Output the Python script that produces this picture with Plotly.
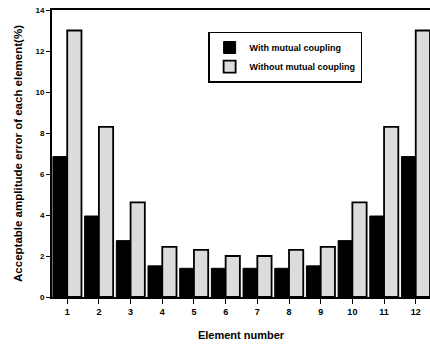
import plotly.graph_objects as go

elements = [str(i) for i in range(1, 13)]
with_coupling = [6.85, 3.95, 2.75, 1.52, 1.4, 1.4, 1.4, 1.4, 1.52, 2.75, 3.95, 6.85]
without_coupling = [13.0, 8.3, 4.62, 2.45, 2.3, 2.0, 2.0, 2.3, 2.45, 4.62, 8.3, 13.0]
y_ticks = [0, 2, 4, 6, 8, 10, 12, 14]

x = list(range(1, 13))
FAM = "Liberation Sans, Arial, sans-serif"

fig = go.Figure()
fig.add_trace(go.Bar(x=x, y=with_coupling, name="<b>With mutual coupling</b>",
                     marker=dict(color="black", line=dict(color="black", width=1))))
fig.add_trace(go.Bar(x=x, y=without_coupling, name="<b>Without mutual coupling</b>",
                     marker=dict(color="#dcdcdc", line=dict(color="black", width=1.8))))

fig.update_layout(
    width=430, height=349,
    margin=dict(l=52, r=0, t=10, b=52),
    paper_bgcolor="white", plot_bgcolor="white",
    barmode="group", bargap=0.1, bargroupgap=0.0,
    font=dict(family=FAM, size=9, color="black"),
    showlegend=True,
    legend=dict(x=0.413, y=0.925, xanchor="left", yanchor="top",
                bgcolor="white", bordercolor="black", borderwidth=1.5,
                font=dict(family=FAM, size=9, color="black"),
                tracegroupgap=0, itemwidth=30),
)
fig.update_xaxes(
    range=[0.52, 12.45], tickmode="array", tickvals=x,
    ticktext=["<b>%s</b>" % e for e in elements],
    showline=True, linecolor="black", linewidth=2, mirror=True,
    ticks="outside", ticklen=5, tickcolor="black", showgrid=False, zeroline=False,
    title=dict(text="<b>Element number</b>", font=dict(size=11, family=FAM), standoff=16),
    tickfont=dict(size=9, family=FAM),
)
fig.update_yaxes(
    range=[0, 14], tickmode="array", tickvals=y_ticks,
    ticktext=["<b>%d</b>" % v for v in y_ticks],
    showline=True, linecolor="black", linewidth=2, mirror=False,
    ticks="outside", ticklen=4, tickcolor="black", showgrid=False, zeroline=False,
    title=dict(text="<b>Acceptable amplitude error of each element(%)</b>", font=dict(size=11.5, family=FAM), standoff=10),
    tickfont=dict(size=8, family=FAM),
)

fig.write_html("out.html", config={"displayModeBar": False},
               post_script="document.body.style.margin='0px';document.body.style.overflow='hidden';")
